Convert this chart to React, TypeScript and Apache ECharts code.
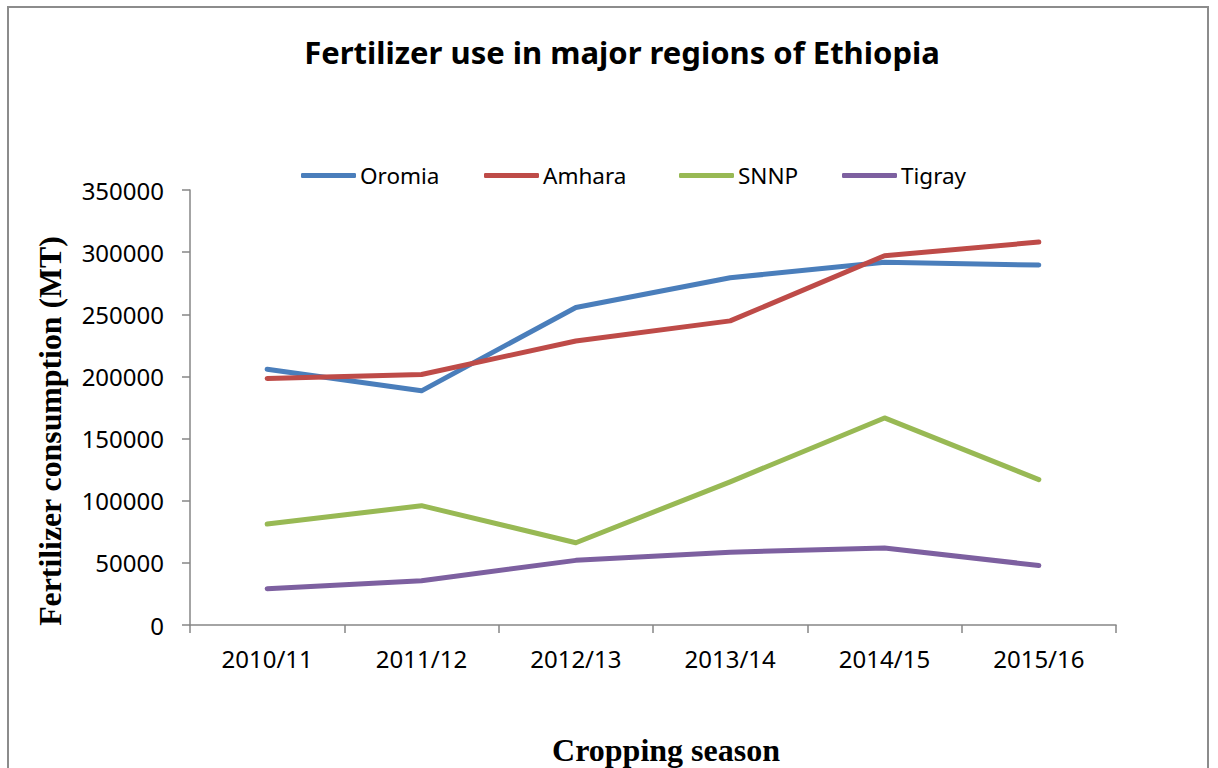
import React, { useEffect, useRef } from "react";
import * as echarts from "echarts";

const categories = ["2010/11", "2011/12", "2012/13", "2013/14", "2014/15", "2015/16"];
const oromia = [205800, 188400, 255500, 279400, 291800, 289600];
const amhara = [198400, 201600, 228500, 244700, 297100, 308100];
const snnp = [81200, 96000, 66200, 115200, 166600, 117000];
const tigray = [29200, 35600, 52000, 58600, 61900, 47900];
const seriesNames = ["Oromia", "Amhara", "SNNP", "Tigray"];
const seriesColors = ["#4A7EBB", "#BE4B48", "#98B954", "#7D60A0"];
const legendLefts = [296, 479, 674, 837];

export default function App() {
  const ref = useRef<HTMLDivElement>(null);
  useEffect(() => {
    if (!ref.current) return;
    const chart = echarts.init(ref.current, null, { renderer: "svg" });
    const data = [oromia, amhara, snnp, tigray];
    chart.setOption({
      animation: false,
      backgroundColor: "#ffffff",
      title: {
        text: "Fertilizer use in major regions of Ethiopia",
        left: 617,
        top: 31,
        textAlign: "center",
        textStyle: { fontFamily: "Noto Sans", fontWeight: "bold", fontSize: 31, color: "#000" },
      },
      legend: seriesNames.map((name, i) => ({
        left: legendLefts[i],
        top: 159,
        itemWidth: 55,
        itemHeight: 5,
        icon: "roundRect",
        data: [name],
        textStyle: { fontFamily: "Noto Sans", fontSize: 22.5, color: "#000", padding: [0, 0, 0, -1] },
      })),
      grid: { left: 190, right: 102, top: 190, bottom: 143, containLabel: false },
      xAxis: {
        type: "category",
        data: categories,
        boundaryGap: true,
        axisLine: { lineStyle: { color: "#868686", width: 1.5 } },
        axisTick: { show: true, length: 8, lineStyle: { color: "#868686", width: 1.5 } },
        axisLabel: { fontFamily: "Noto Sans", fontSize: 24, color: "#000", margin: 21 },
        splitLine: { show: false },
      },
      yAxis: {
        type: "value",
        min: 0,
        max: 350000,
        interval: 50000,
        axisLine: { show: true, lineStyle: { color: "#868686", width: 1.5 } },
        axisTick: { show: true, length: 8, lineStyle: { color: "#868686", width: 1.5 } },
        axisLabel: {
          fontFamily: "Noto Sans",
          fontSize: 24,
          color: "#000",
          margin: 26,
          formatter: (v: number) => String(v),
        },
        splitLine: { show: false },
      },
      series: seriesNames.map((name, i) => ({
        name,
        type: "line",
        data: data[i],
        symbol: "none",
        color: seriesColors[i],
        lineStyle: { width: 5, color: seriesColors[i], cap: "round", join: "round" },
      })),
      graphic: [
        {
          type: "rect",
          shape: { x: 8, y: 7, width: 1200, height: 800 },
          style: { fill: "none", stroke: "#8c8c8c", lineWidth: 2 },
          silent: true,
        },
        {
          type: "text",
          x: 50,
          y: 431,
          rotation: Math.PI / 2,
          style: {
            text: "Fertilizer consumption (MT)",
            fontFamily: "Liberation Serif",
            fontWeight: "bold",
            fontSize: 31.8,
            fill: "#000",
            textAlign: "center",
            textVerticalAlign: "middle",
          },
        },
        {
          type: "text",
          x: 666,
          y: 750,
          style: {
            text: "Cropping season",
            fontFamily: "Liberation Serif",
            fontWeight: "bold",
            fontSize: 32,
            fill: "#000",
            textAlign: "center",
            textVerticalAlign: "middle",
          },
        },
      ],
    });
    return () => chart.dispose();
  }, []);
  return (
    <div style={{ position: "absolute", left: 0, top: 0, width: 1218, height: 768, overflow: "hidden" }}>
      <div ref={ref} style={{ width: 1218, height: 768 }} />
    </div>
  );
}
